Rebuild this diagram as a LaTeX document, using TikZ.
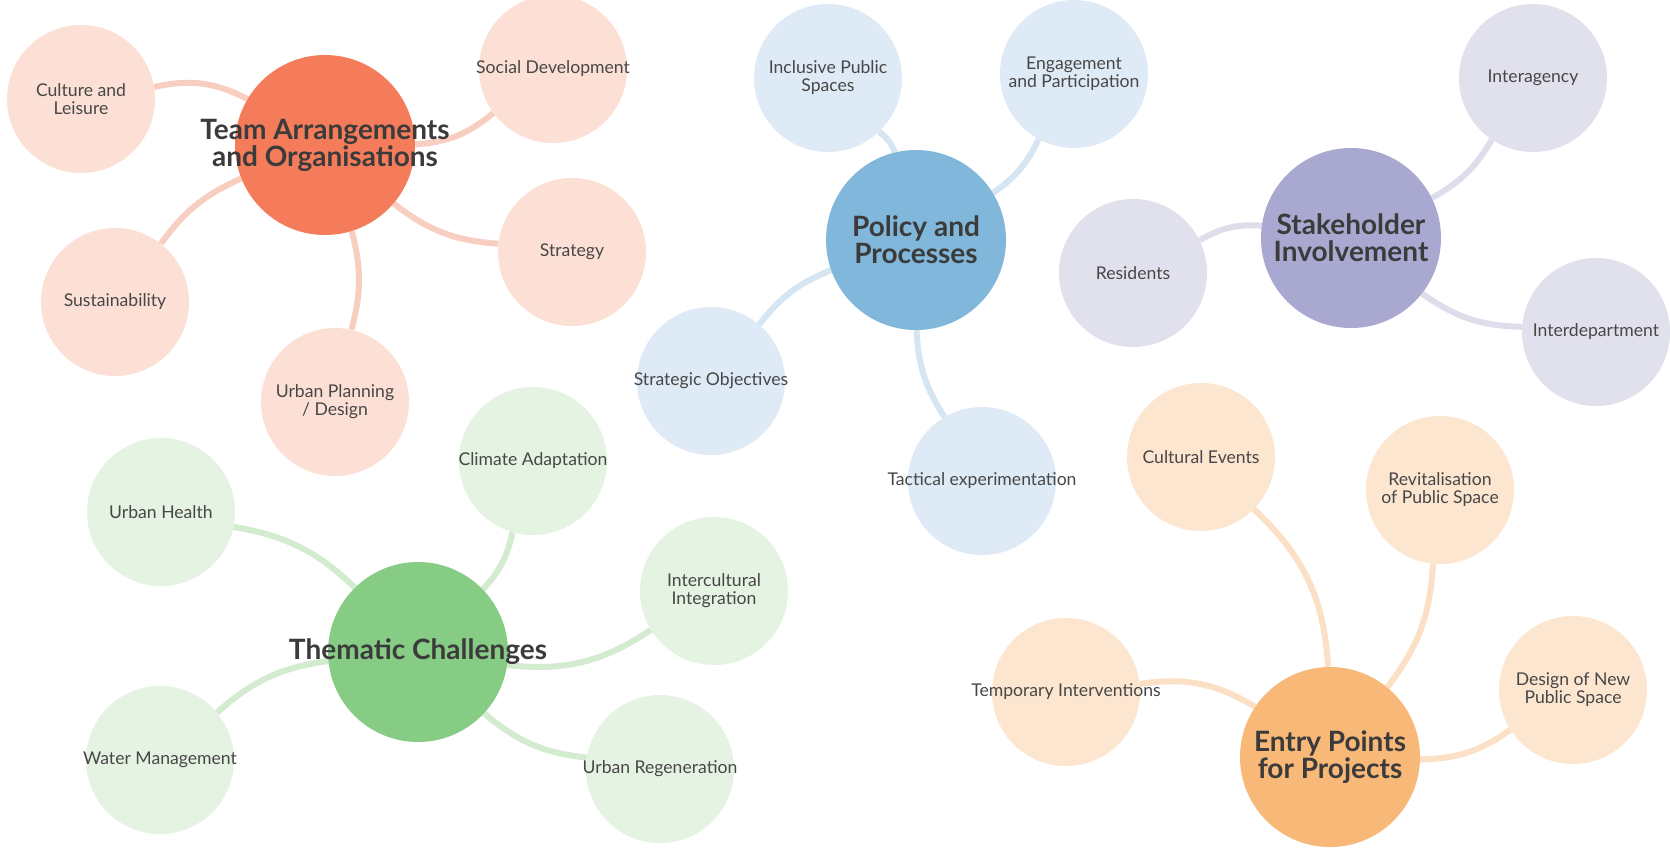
\documentclass[tikz,border=0pt]{standalone}
\usepackage{fontspec}
\setmainfont{Lato}
\usetikzlibrary{backgrounds}

\definecolor{teamhub}{HTML}{F57C5B}
\definecolor{teamleaf}{HTML}{FCE0D5}
\definecolor{teamline}{HTML}{F8CEC0}
\definecolor{polhub}{HTML}{80B7DA}
\definecolor{polleaf}{HTML}{DEEAF6}
\definecolor{polline}{HTML}{D5E5F2}
\definecolor{stakehub}{HTML}{A9A8D1}
\definecolor{stakeleaf}{HTML}{E1E0ED}
\definecolor{stakeline}{HTML}{DEDDEC}
\definecolor{themhub}{HTML}{86CC85}
\definecolor{themleaf}{HTML}{E5F3E2}
\definecolor{themline}{HTML}{D3EBCF}
\definecolor{entryhub}{HTML}{F8B878}
\definecolor{entryleaf}{HTML}{FDE6D0}
\definecolor{entryline}{HTML}{FBE0C5}
\definecolor{hubtext}{HTML}{3B3B3B}
\definecolor{leaftext}{HTML}{474747}

\tikzset{x=1pt, y=-1pt, % one unit per pixel, y grows downwards
hub/.style={circle, inner sep=0pt, minimum size=180pt,
  label={[align=center, text=hubtext, font=\bfseries\fontsize{28}{27}\selectfont]center:#1}}, % the big circle of each group
leaf/.style={circle, inner sep=0pt, minimum size=148pt,
  label={[align=center, text=leaftext, font=\fontsize{17.6}{18}\selectfont]center:#1}}, % the small circles around it
link/.style={line width=6pt}, % the connectors
}

\begin{document}
\begin{tikzpicture}
\useasboundingbox (0,0) rectangle (1670,847);

% Team Arrangements
\node[hub={Team Arrangements\\and Organisations}, fill=teamhub] (T) at (325,145) {};
\node[leaf={Culture and\\Leisure}, fill=teamleaf] (T1) at (81,99) {};
\node[leaf={Social Development}, fill=teamleaf] (T2) at (553,69) {};
\node[leaf={Strategy}, fill=teamleaf] (T3) at (572,252) {};
\node[leaf={Sustainability}, fill=teamleaf] (T4) at (115,302) {};
\node[leaf={Urban Planning\\/ Design}, fill=teamleaf] (T5) at (335,402) {};

% Policy and Processes
\node[hub={Policy and\\Processes}, fill=polhub] (P) at (916,240) {};
\node[leaf={Inclusive Public\\Spaces}, fill=polleaf] (P1) at (828,78) {};
\node[leaf={Engagement\\and Participation}, fill=polleaf] (P2) at (1074,74) {};
\node[leaf={Strategic Objectives}, fill=polleaf] (P3) at (711,381) {};
\node[leaf={Tactical experimentation}, fill=polleaf] (P4) at (982,481) {};

% Stakeholder Involvement
\node[hub={Stakeholder\\Involvement}, fill=stakehub] (S) at (1351,238) {};
\node[leaf={Interagency}, fill=stakeleaf] (S1) at (1533,78) {};
\node[leaf={Residents}, fill=stakeleaf] (S2) at (1133,273) {};
\node[leaf={Interdepartment}, fill=stakeleaf] (S3) at (1596,332) {};

% Thematic Challenges
\node[hub={Thematic Challenges}, fill=themhub] (C) at (418,652) {};
\node[leaf={Urban Health}, fill=themleaf] (C1) at (161,512) {};
\node[leaf={Climate Adaptation}, fill=themleaf] (C2) at (533,461) {};
\node[leaf={Intercultural\\Integration}, fill=themleaf] (C3) at (714,591) {};
\node[leaf={Water Management}, fill=themleaf] (C4) at (160,760) {};
\node[leaf={Urban Regeneration}, fill=themleaf] (C5) at (660,769) {};

% Entry Points
\node[hub={Entry Points\\for Projects}, fill=entryhub] (E) at (1330,757) {};
\node[leaf={Cultural Events}, fill=entryleaf] (E1) at (1201,457) {};
\node[leaf={Revitalisation\\of Public Space}, fill=entryleaf] (E2) at (1440,490) {};
\node[leaf={Temporary Interventions}, fill=entryleaf] (E3) at (1066,692) {};
\node[leaf={Design of New\\Public Space}, fill=entryleaf] (E4) at (1573,690) {};

\begin{scope}[on background layer]
\fill[white] (0,0) rectangle (1670,847);
\draw[link, teamline] (T) edge[bend right=20] (T1)
(T) edge[bend right=18] (T2)
(T) edge[bend right=17] (T3)
(T) edge[bend right=15] (T4)
(T) edge[bend left=15] (T5);
\draw[link, polline] (P) edge[bend right=15] (P1)
(P) edge[bend right=15] (P2)
(P) edge[bend right=15] (P3)
(P) edge[bend right=15] (P4);
\draw[link, stakeline] (S) edge[bend right=15] (S1)
(S) edge[bend right=17] (S2)
(S) edge[bend right=17] (S3);
\draw[link, themline] (C) edge[bend right=17] (C1)
(C) edge[bend right=15] (C2)
(C) edge[bend right=20] (C3)
(C) edge[bend right=17] (C4)
(C) edge[bend right=17] (C5);
\draw[link, entryline] (E) edge[bend right=22] (E1)
(E) edge[bend right=17] (E2)
(E) edge[bend right=20] (E3)
(E) edge[bend right=17] (E4);
\end{scope}
\end{tikzpicture}
\end{document}
